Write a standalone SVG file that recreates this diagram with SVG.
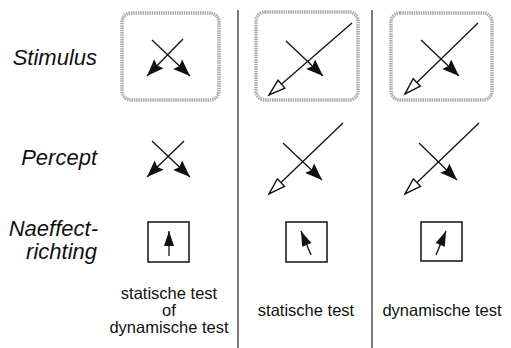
<svg xmlns="http://www.w3.org/2000/svg" width="511" height="348" viewBox="0 0 511 348">
<style>
.lbl{font-family:"Liberation Sans",Arial,sans-serif;font-style:italic;font-size:22px;fill:#111;text-anchor:end}
.cap{font-family:"Liberation Sans",Arial,sans-serif;font-size:16.5px;fill:#111;text-anchor:middle}
.frame{fill:none;stroke:#aaa;stroke-width:3.5;stroke-dasharray:1.5 0.8}
.ln{stroke:#111;stroke-width:1.3;fill:none}
.box{fill:none;stroke:#111;stroke-width:1.5}
.div{stroke:#222;stroke-width:1.2}
</style>
<defs>
<marker id="fill" markerUnits="userSpaceOnUse" markerWidth="20" markerHeight="14" refX="17" refY="6.5" orient="auto" overflow="visible">
<path d="M0,0 L17,6.5 L0,13 L2.5,6.5 z" fill="#111"/>
</marker>
<marker id="open" markerUnits="userSpaceOnUse" markerWidth="20" markerHeight="14" refX="16.5" refY="6" orient="auto" overflow="visible">
<path d="M0,0.8 L16.5,6 L0,11.2 z" fill="#fff" stroke="#111" stroke-width="1.4" stroke-linejoin="miter"/>
</marker>
<marker id="small" markerUnits="userSpaceOnUse" markerWidth="16" markerHeight="10" refX="15" refY="5" orient="auto" overflow="visible">
<path d="M0,0 L15,5 L0,10 z" fill="#111"/>
</marker>
</defs>

<g id="labels">
<text class="lbl" x="97" y="65">Stimulus</text>
<text class="lbl" x="97" y="165">Percept</text>
<text class="lbl" x="98" y="236">Naeffect-</text>
<text class="lbl" x="97" y="259">richting</text>
</g>

<g id="dividers">
<line class="div" x1="238" y1="10" x2="238" y2="348"/>
<line class="div" x1="372" y1="10" x2="372" y2="348"/>
</g>

<g id="stimulus-1">
<rect class="frame" x="122" y="13" width="97" height="87" rx="9"/>
</g>
<g id="stimulus-2">
<rect class="frame" x="256" y="12" width="102" height="88" rx="9"/>
</g>
<g id="stimulus-3">
<rect class="frame" x="391" y="13" width="101" height="87" rx="9"/>
</g>

<g id="naeffect-1">
<rect class="box" x="148" y="222" width="41" height="40"/>
</g>
<g id="naeffect-2">
<rect class="box" x="286" y="222" width="41" height="40"/>
</g>
<g id="naeffect-3">
<rect class="box" x="421" y="222" width="41" height="39"/>
</g>

<g id="connectors">
<!-- stimulus col 1 -->
<line class="ln" x1="152" y1="40" x2="190" y2="76" marker-end="url(#fill)"/>
<line class="ln" x1="183" y1="39" x2="147" y2="76" marker-end="url(#fill)"/>
<!-- stimulus col 2 -->
<line class="ln" x1="352" y1="23" x2="269" y2="95" marker-end="url(#open)"/>
<line class="ln" x1="286" y1="41" x2="323" y2="76" marker-end="url(#fill)"/>
<!-- stimulus col 3 -->
<line class="ln" x1="478" y1="23" x2="405" y2="94" marker-end="url(#open)"/>
<line class="ln" x1="421" y1="40" x2="459" y2="76" marker-end="url(#fill)"/>
<!-- percept col 1 -->
<line class="ln" x1="152" y1="141" x2="190" y2="177" marker-end="url(#fill)"/>
<line class="ln" x1="184" y1="141" x2="147" y2="177" marker-end="url(#fill)"/>
<!-- percept col 2 -->
<line class="ln" x1="343" y1="123" x2="269" y2="194" marker-end="url(#open)"/>
<line class="ln" x1="283" y1="143" x2="322" y2="180" marker-end="url(#fill)"/>
<!-- percept col 3 -->
<line class="ln" x1="479" y1="123" x2="405" y2="194" marker-end="url(#open)"/>
<line class="ln" x1="419" y1="143" x2="457" y2="180" marker-end="url(#fill)"/>
<!-- naeffect arrows -->
<line class="ln" x1="169" y1="256" x2="169" y2="231" marker-end="url(#small)"/>
<line class="ln" x1="311" y1="255" x2="301" y2="231" marker-end="url(#small)"/>
<line class="ln" x1="436" y1="255" x2="446" y2="231" marker-end="url(#small)"/>
</g>

<g id="captions">
<text class="cap" x="169" y="299">statische test</text>
<text class="cap" x="169" y="316">of</text>
<text class="cap" x="169" y="333">dynamische test</text>
<text class="cap" x="306" y="316">statische test</text>
<text class="cap" x="442" y="316">dynamische test</text>
</g>
</svg>
